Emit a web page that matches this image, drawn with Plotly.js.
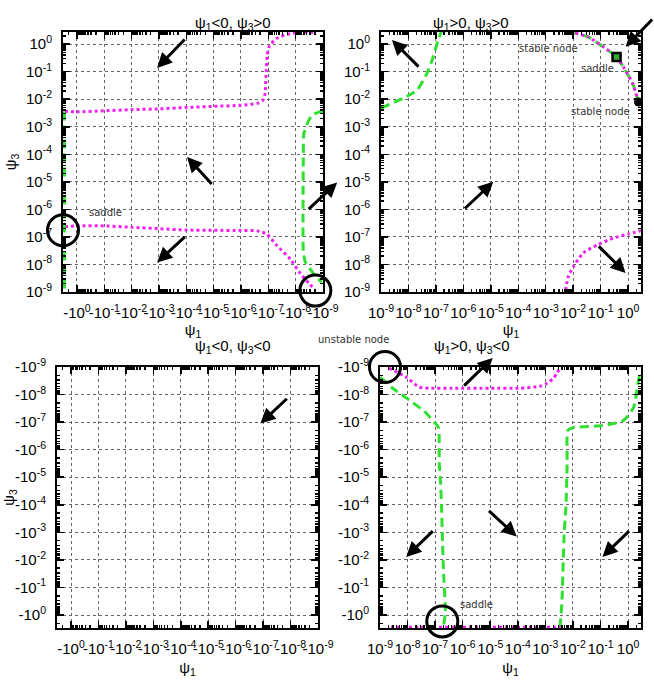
<!DOCTYPE html>
<html>
<head>
<meta charset="utf-8">
<script src="https://cdn.plot.ly/plotly-3.0.1.min.js"></script>
<style>body{margin:0;background:#fff}#plot{width:654px;height:680px}</style>
</head>
<body>
<div id="plot"></div>
<script>
// all values are decades (log10 of |psi|)
var decades = [0, -1, -2, -3, -4, -5, -6, -7, -8, -9];

// psi1<0, psi3>0
var p1UpperX = [0.45, 0, -1, -2, -3, -4, -5, -6, -6.6, -6.8, -6.88, -6.92, -6.96, -7.05, -7.3, -7.6, -7.9, -8.3, -8.65];
var p1UpperY = [-2.44, -2.46, -2.42, -2.38, -2.35, -2.3, -2.26, -2.22, -2.15, -2.04, -1.8, -1.0, -0.4, -0.05, 0.2, 0.33, 0.4, 0.43, 0.43];
var p1LowerX = [0.45, 0, -1, -2, -3, -4, -5, -6, -6.6, -6.95, -7.3, -7.8, -8.17, -8.5, -8.7];
var p1LowerY = [-6.63, -6.6, -6.6, -6.65, -6.7, -6.75, -6.76, -6.77, -6.78, -6.9, -7.3, -7.8, -8.33, -8.7, -8.9];
var p1EdgeX = [0.46, 0.46];
var p1EdgeY = [-2.45, -9];
var p1RightX = [-9, -8.85, -8.6, -8.42, -8.3, -8.28, -8.27, -8.28, -8.35, -8.55, -8.75, -8.95];
var p1RightY = [-2.45, -2.47, -2.58, -2.9, -3.25, -4, -6, -7.5, -7.9, -8.2, -8.45, -8.65];

// psi1>0, psi3>0
var p2GreenX = [-9, -8.93, -8.6, -8.2, -7.69, -7.32, -7.1, -6.92, -6.8];
var p2GreenY = [-2.3, -2.29, -2.15, -1.97, -1.67, -1.05, -0.47, 0.15, 0.45];
var p2ArcX = [-2.14, -1.48, -0.9, -0.42, -0.17, 0.16, 0.38];
var p2ArcY = [0.45, 0.27, -0.1, -0.47, -0.83, -1.42, -2.1];
var p2LowX = [-2.28, -2.18, -2.0, -1.63, -1.12, -0.53, 0.0, 0.47];
var p2LowY = [-8.93, -8.45, -8.09, -7.58, -7.29, -7.04, -6.9, -6.77];
var stableX = [-2.14, 0.38];
var stableY = [0.45, -2.1];
var saddleX = [-0.42];
var saddleY = [-0.47];

// psi1>0, psi3<0
var p4TopX = [-8.67, -8.05, -7.58, -7.2, -6.37, -5, -3.93, -3.2, -2.94, -2.7, -2.58, -2.47];
var p4TopY = [-8.96, -8.63, -8.27, -8.23, -8.23, -8.23, -8.23, -8.3, -8.41, -8.6, -8.78, -8.96];
var p4LeftX = [-9.0, -8.5, -7.94, -7.4, -7.03, -6.88, -6.85, -6.8, -6.77, -6.7, -6.63, -6.7];
var p4LeftY = [-8.63, -8.2, -7.8, -7.4, -7.0, -6.8, -5.5, -4.8, -4.0, -1.67, -0.1, 0.45];
var p4RightX = [-2.47, -2.4, -2.32, -2.25, -2.21, -2.18, -2.0, -0.9, -0.17, 0.2, 0.38, 0.45];
var p4RightY = [0.45, -0.47, -2.92, -4.0, -5.48, -6.7, -6.8, -6.88, -7.06, -7.53, -8.52, -8.8];
var p4BottomX = [-8.6, -2.45];
var p4BottomY = [0.44, 0.44];

// circles around fixed points: [panel, x, y]
var rings = [[1, 0.51, -6.76], [1, -8.72, -8.95], [4, -8.82, -9.0], [4, -6.74, 0.23]];

// arrows: [panel, tailX, tailY, headX, headY]
var arrows = [
  [1, -3.99, 0.22, -2.93, -0.87],
  [1, -4.98, -5.13, -4.03, -4.1],
  [1, -4.0, -6.95, -2.93, -7.93],
  [1, -8.42, -6.04, -9.52, -5.02],
  [2, -7.58, -0.87, -8.6, 0.15],
  [2, 0.93, 0.95, -0.09, -0.1],
  [2, -6.0, -6.02, -4.91, -5.0],
  [2, -1.12, -7.29, -0.09, -8.31],
  [3, -7.92, -7.9, -6.9, -6.95],
  [4, -6.0, -8.27, -4.91, -9.33],
  [4, -7.03, -3.1, -8.05, -2.11],
  [4, -5.1, -3.83, -4.04, -2.85],
  [4, 0.09, -3.1, -0.93, -2.11]
];

// labels: [panel, x, y, text]
var labels = [
  [1, -1.03, -6.11, 'saddle'],
  [2, -2.9, -0.15, 'stable node'],
  [2, -1.12, -0.87, 'saddle'],
  [2, -1.0, -2.44, 'stable node'],
  [4, -5.5, -0.39, 'saddle']
];

var GREEN = '#2fe02f', MAGENTA = '#f020f0';

function pw(a) { return a.map(function (e) { return Math.pow(10, e); }); }
function sfx(n) { return n === 1 ? '' : String(n); }

var traces = [];
function line(panel, xs, ys, color, dash) {
  traces.push({
    x: pw(xs), y: pw(ys), xaxis: 'x' + sfx(panel), yaxis: 'y' + sfx(panel),
    mode: 'lines', type: 'scatter', hoverinfo: 'skip',
    line: {color: color, width: 3, dash: dash, shape: 'spline', smoothing: 0.6}
  });
}
var dashed = '9px,5px', dotted = '3px,3px';

line(1, p1UpperX, p1UpperY, MAGENTA, dotted);
line(1, p1LowerX, p1LowerY, MAGENTA, dotted);
line(1, p1EdgeX, p1EdgeY, GREEN, dashed);
line(1, p1RightX, p1RightY, GREEN, dashed);
line(2, p2GreenX, p2GreenY, GREEN, dashed);
line(2, p2ArcX, p2ArcY, GREEN, dashed);
line(2, p2ArcX, p2ArcY, MAGENTA, dotted);
line(2, p2LowX, p2LowY, MAGENTA, dotted);
line(4, p4TopX, p4TopY, MAGENTA, dotted);
line(4, p4LeftX, p4LeftY, GREEN, dashed);
line(4, p4RightX, p4RightY, GREEN, dashed);
line(4, p4BottomX, p4BottomY, MAGENTA, dotted);

traces.push({
  x: pw(stableX), y: pw(stableY), xaxis: 'x2', yaxis: 'y2', mode: 'markers', type: 'scatter',
  cliponaxis: false, hoverinfo: 'skip', marker: {color: '#000', size: 9, symbol: 'circle'}
});
traces.push({
  x: pw(saddleX), y: pw(saddleY), xaxis: 'x2', yaxis: 'y2', mode: 'markers', type: 'scatter',
  cliponaxis: false, hoverinfo: 'skip',
  marker: {color: '#3a3', size: 8, symbol: 'square', line: {color: '#000', width: 2.5}}
});
rings.forEach(function (r) {
  traces.push({
    x: pw([r[1]]), y: pw([r[2]]), xaxis: 'x' + sfx(r[0]), yaxis: 'y' + sfx(r[0]),
    mode: 'markers', type: 'scatter', cliponaxis: false, hoverinfo: 'skip',
    marker: {size: 31, symbol: 'circle-open', color: '#000', line: {color: '#000', width: 3}}
  });
});

var annotations = [];
arrows.forEach(function (a) {
  var s = sfx(a[0]);
  annotations.push({
    xref: 'x' + s, yref: 'y' + s, axref: 'x' + s, ayref: 'y' + s,
    x: a[3], y: a[4], ax: a[1], ay: a[2], text: '',
    showarrow: true, arrowhead: 2, arrowsize: 1, arrowwidth: 3, arrowcolor: '#000'
  });
});
labels.forEach(function (l) {
  var s = sfx(l[0]);
  annotations.push({
    xref: 'x' + s, yref: 'y' + s, x: l[1], y: l[2], text: l[3], showarrow: false,
    font: {family: 'DejaVu Sans', size: 10, color: '#333'}
  });
});
annotations.push({
  xref: 'paper', yref: 'paper', x: 353 / 654, y: 1 - 339 / 680, text: 'unstable node',
  showarrow: false, font: {family: 'DejaVu Sans', size: 10, color: '#333'}
});

var titles = [
  [193, 12, '\u03c8<sub>1</sub>&lt;0, \u03c8<sub>3</sub>&gt;0'],
  [511, 12, '\u03c8<sub>1</sub>&gt;0, \u03c8<sub>3</sub>&gt;0'],
  [193, 346, '\u03c8<sub>1</sub>&lt;0, \u03c8<sub>3</sub>&lt;0'],
  [512, 346, '\u03c8<sub>1</sub>&gt;0, \u03c8<sub>3</sub>&lt;0']
];
titles.forEach(function (t) {
  annotations.push({
    xref: 'paper', yref: 'paper', x: t[0] / 654, y: 1 - t[1] / 680, text: t[2],
    showarrow: false, font: {family: 'Liberation Sans', size: 15, color: '#000'}
  });
});

var tickFont = {family: 'Liberation Sans', size: 15, color: '#000'};
function axis(domain, range, anchor, neg, title, standoff) {
  var ax = {
    type: 'log', domain: domain, range: range, anchor: anchor, autorange: false,
    tickmode: 'array', tickvals: pw(decades),
    ticktext: decades.map(function (e) { return (neg ? '-' : '') + '10<sup>' + e + '</sup>'; }),
    tickangle: 0, tickfont: tickFont, ticks: 'inside', ticklen: 7, tickwidth: 1.5, tickcolor: '#000',
    ticklabelstandoff: 6,
    minor: {ticks: 'inside', ticklen: 3, tickcolor: '#000', dtick: 'D1', showgrid: false},
    showline: true, linewidth: 2, linecolor: '#000', mirror: 'ticks',
    showgrid: true, gridcolor: '#666', griddash: 'dot', gridwidth: 1,
    zeroline: false, fixedrange: true
  };
  if (title) ax.title = {text: title, font: {family: 'Liberation Sans', size: 15, color: '#000'}, standoff: standoff};
  return ax;
}

var topRow = [1 - 292 / 680, 1 - 32 / 680];
var botRow = [1 - 628 / 680, 1 - 367 / 680];

var layout = {
  width: 654, height: 680,
  margin: {l: 0, r: 0, t: 0, b: 0},
  paper_bgcolor: '#fff', plot_bgcolor: '#fff',
  showlegend: false,
  xaxis: axis([63 / 654, 323 / 654], [0.51, -9], 'y', true, '\u03c8<sub>1</sub>', 0),
  yaxis: axis(topRow, [-9, 0.44], 'x', false, '\u03c8<sub>3</sub>', 6),
  xaxis2: axis([381 / 654, 641 / 654], [-9, 0.47], 'y2', false, '\u03c8<sub>1</sub>', 0),
  yaxis2: axis(topRow, [-9, 0.44], 'x2', false),
  xaxis3: axis([57 / 654, 318 / 654], [0.51, -9], 'y3', true, '\u03c8<sub>1</sub>', 6),
  yaxis3: axis(botRow, [0.47, -9], 'x3', true, '\u03c8<sub>3</sub>', 6),
  xaxis4: axis([380 / 654, 641 / 654], [-9, 0.47], 'y4', false, '\u03c8<sub>1</sub>', 6),
  yaxis4: axis(botRow, [0.47, -9], 'x4', true),
  annotations: annotations
};

Plotly.newPlot('plot', traces, layout, {staticPlot: true});
</script>
</body>
</html>
